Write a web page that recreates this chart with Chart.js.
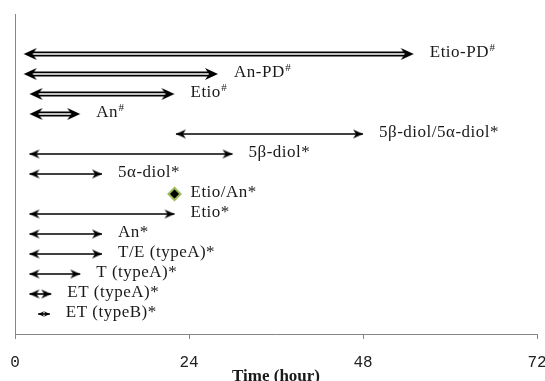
<!DOCTYPE html>
<html><head><meta charset="utf-8">
<script src="https://cdn.jsdelivr.net/npm/chart.js@4.4.1/dist/chart.umd.min.js"></script>
<style>html,body{margin:0;padding:0;background:#fff;}</style>
</head><body>
<canvas id="c" width="545" height="381" style="display:block;width:545px;height:381px"></canvas>
<script>
// ---- data ----
const labels = ['Etio-PD#','An-PD#','Etio#','An#','5β-diol/5α-diol*','5β-diol*','5α-diol*','Etio/An*','Etio*','An*','T/E (typeA)*','T (typeA)*','ET (typeA)*','ET (typeB)*'];
const startHours = [1.2, 1.2, 2, 2, 22.2, 2, 2, 22, 2, 2, 2, 2, 2, 3.2];
const endHours   = [55, 28, 22, 9, 48, 30, 12, 22, 22, 12, 12, 9, 5, 4.8];
const xTicks = [0, 24, 48, 72];
const xTitle = 'Time (hour)';

// ---- arrow head images ----
const headCache = {};
function makeHead(L, H, notch, mask) {
  const key = [L, H, notch, mask].join('_');
  if (headCache[key]) return headCache[key];
  const c = document.createElement('canvas');
  c.width = Math.ceil(2 * L + 2); c.height = Math.ceil(H + 2);
  const g = c.getContext('2d');
  const cx = c.width / 2, cy = c.height / 2;
  if (mask) { g.fillStyle = '#fff'; g.fillRect(cx - mask, cy - 3, mask + 2, 6); }
  g.fillStyle = '#000';
  g.beginPath();
  g.moveTo(cx, cy);
  g.lineTo(cx - L, cy - H / 2);
  g.lineTo(cx - L + notch, cy);
  g.lineTo(cx - L, cy + H / 2);
  g.closePath();
  g.fill();
  headCache[key] = c;
  return c;
}
const doubleHead = makeHead(13, 12, 4, 6);
// single heads shrink when the arrow is too short to hold two full heads
function singleHeadFor(ctx) {
  const ds = ctx.dataset.data;
  const xs = ctx.chart.scales.x;
  const span = Math.abs(xs.getPixelForValue(ds[1].x) - xs.getPixelForValue(ds[0].x));
  const L = Math.max(4, Math.min(10, Math.round(span / 2)));
  return makeHead(L, L * 0.9, L * 0.3, 0);
}
const rot = ctx => ctx.dataIndex === 0 ? 180 : 0;

const datasets = [];
const N = labels.length;
labels.forEach((lab, i) => {
  const r = N - i;
  const s = startHours[i], e = endHours[i];
  const pts = [{x: s, y: r}, {x: e, y: r}];
  if (s === e) {
    datasets.push({data: [{x: s, y: r}], showLine: false, pointStyle: 'rectRot', pointRadius: 6,
      pointBackgroundColor: '#000', pointBorderColor: '#9bbb59', pointBorderWidth: 2, order: 0});
    return;
  }
  const dbl = lab.endsWith('#');
  datasets.push({data: pts, borderColor: '#000', borderWidth: dbl ? 5 : 1.6, pointRadius: 0, order: 2});
  if (dbl) datasets.push({data: pts, borderColor: '#fff', borderWidth: 1.5, pointRadius: 0, order: 1});
  datasets.push({data: pts, showLine: false, pointStyle: dbl ? doubleHead : singleHeadFor, pointRadius: 5,
    pointRotation: rot, order: 0});
});

const labelPlugin = {
  id: 'arrowLabels',
  afterDatasetsDraw(chart) {
    const {ctx, scales: {x, y}} = chart;
    ctx.save();
    ctx.fillStyle = '#1a1a1a';
    ctx.textBaseline = 'middle';
    ctx.textAlign = 'left';
    ctx.letterSpacing = '0.5px';
    labels.forEach((lab, i) => {
      const r = N - i;
      const px = x.getPixelForValue(endHours[i]) + 16;
      const py = y.getPixelForValue(r) - 1;
      const sup = lab.endsWith('#');
      const main = sup ? lab.slice(0, -1) : lab;
      ctx.font = '17px "Liberation Serif"';
      ctx.fillText(main, px, py);
      if (sup) {
        const w = ctx.measureText(main).width;
        ctx.font = '11px "Liberation Serif"';
        ctx.fillText('#', px + w + 0.5, py - 5);
      }
    });
    ctx.restore();
  }
};

new Chart(document.getElementById('c'), {
  type: 'line',
  data: {datasets},
  plugins: [labelPlugin],
  options: {
    responsive: false,
    animation: false,
    events: [],
    layout: {padding: {left: 15, right: 6, top: 14, bottom: 0}},
    plugins: {legend: {display: false}, tooltip: {enabled: false}},
    scales: {
      x: {
        type: 'linear', min: 0, max: 72,
        afterBuildTicks: s => { s.ticks = xTicks.map(v => ({value: v})); },
        afterFit: s => { s.height = 47; s.paddingLeft = 0; s.paddingRight = 0; },
        ticks: {color: '#222', padding: 14, font: {family: '"Liberation Mono"', size: 16}, callback: v => String(v), maxRotation: 0},
        grid: {display: true, drawOnChartArea: false, drawTicks: true, tickLength: 5, color: '#868686'},
        border: {display: true, color: '#868686', width: 1},
        title: {display: true, text: xTitle, color: '#1a1a1a', padding: 0,
          font: {family: '"Liberation Serif"', size: 17, weight: 'bold', lineHeight: 0.5}}
      },
      y: {
        type: 'linear', min: 0, max: 16,
        afterFit: s => { s.width = 0; s.paddingTop = 0; s.paddingBottom = 0; },
        ticks: {display: false},
        grid: {display: false},
        border: {display: true, color: '#868686', width: 1}
      }
    }
  }
});
</script>
</body></html>
